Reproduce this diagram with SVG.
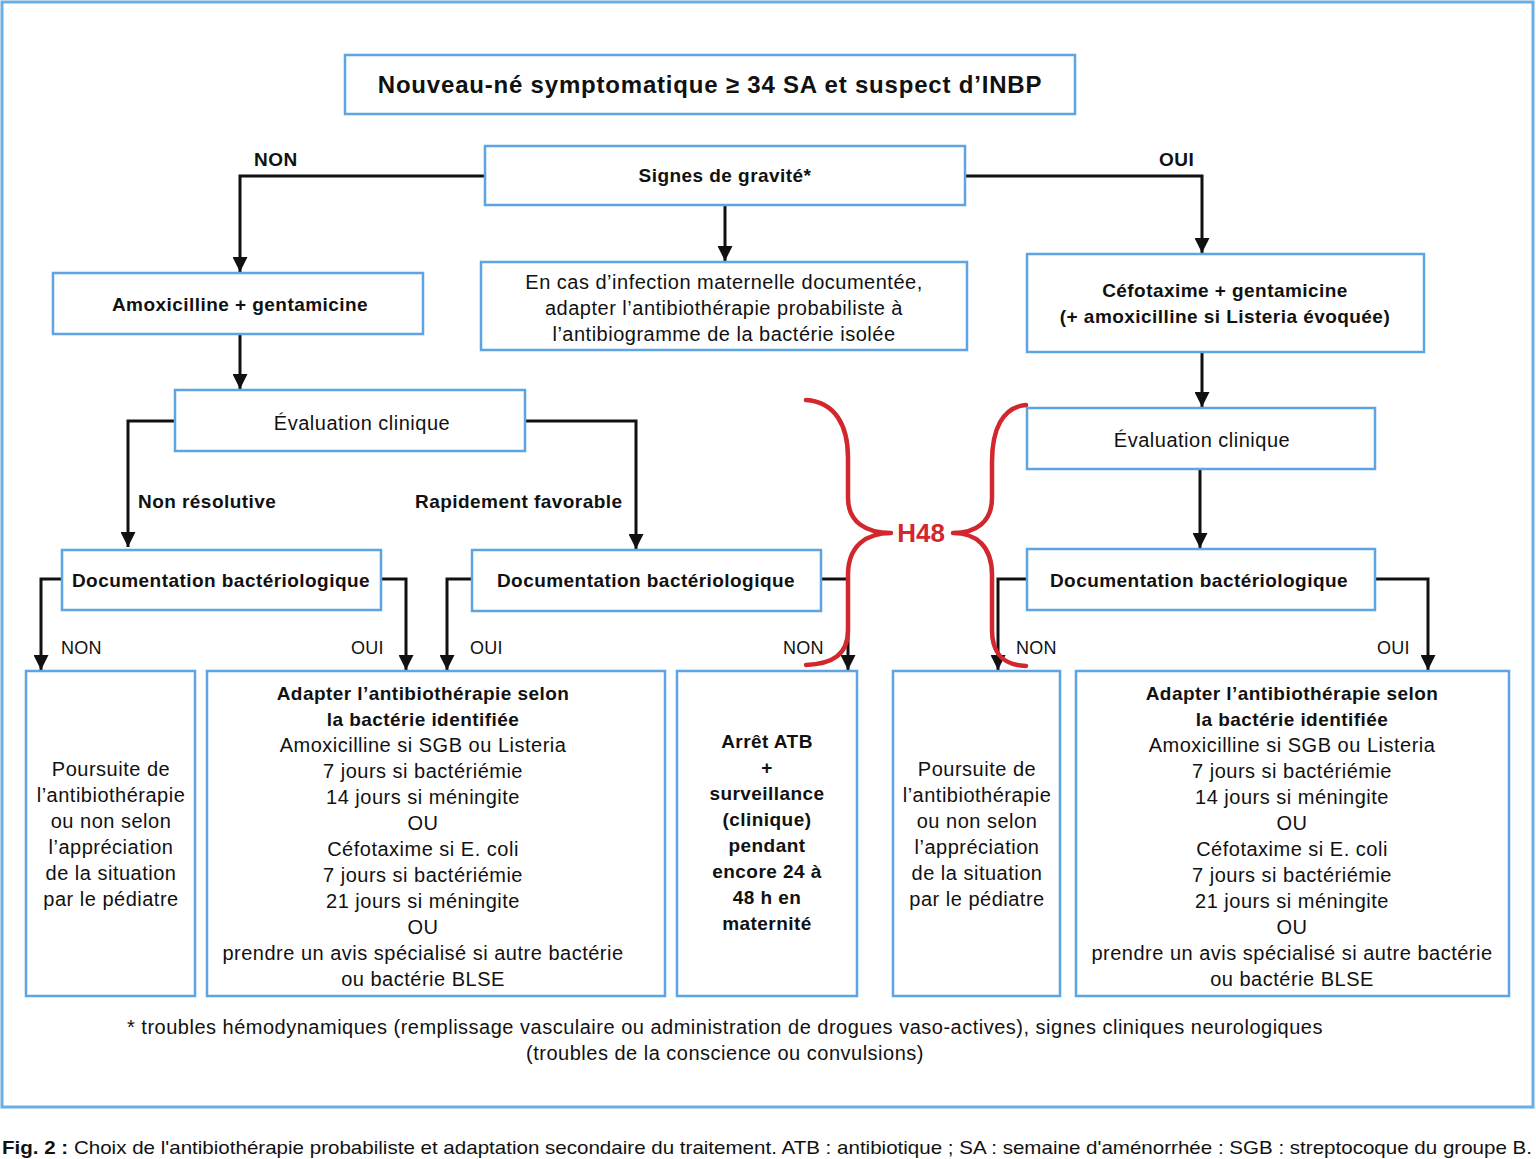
<svg xmlns="http://www.w3.org/2000/svg" width="1536" height="1159" viewBox="0 0 1536 1159">
<defs>
<style>
.box{fill:#fff;stroke:#5ca4e2;stroke-width:2.5}
.frame{fill:#fff;stroke:#6aaee6;stroke-width:3}
.t{font-family:"Liberation Sans",Arial,sans-serif;font-size:20px;letter-spacing:0.5px;fill:#111;text-anchor:middle}
.lbl{font-family:"Liberation Sans",Arial,sans-serif;font-size:18px;letter-spacing:0.2px;fill:#111}
.b{font-weight:bold;font-size:19px;letter-spacing:0.45px}
.c{fill:none;stroke:#111;stroke-width:3}
.brace{fill:none;stroke:#d1272d;stroke-width:4.5;stroke-linecap:round;stroke-linejoin:round}
</style>
<marker id="ah" viewBox="0 0 10 10" refX="10" refY="5" markerWidth="5" markerHeight="5" orient="auto" markerUnits="strokeWidth">
<path d="M0,0 L10,5 L0,10 z" fill="#111"/>
</marker>
</defs>
<rect width="1536" height="1159" fill="#fff"/>
<rect class="frame" x="2" y="2" width="1531" height="1105"/>

<g id="connectors">
<path class="c" d="M485,176 H240 V272" marker-end="url(#ah)"/>
<path class="c" d="M965,176 H1202 V253" marker-end="url(#ah)"/>
<path class="c" d="M725,206 V261" marker-end="url(#ah)"/>
<path class="c" d="M240,335 V389" marker-end="url(#ah)"/>
<path class="c" d="M175,421 H128 V547" marker-end="url(#ah)"/>
<path class="c" d="M525,421 H636 V549" marker-end="url(#ah)"/>
<path class="c" d="M1202,353 V407" marker-end="url(#ah)"/>
<path class="c" d="M1200,470 V548" marker-end="url(#ah)"/>
<path class="c" d="M62,579 H41 V670" marker-end="url(#ah)"/>
<path class="c" d="M381,579 H406 V670" marker-end="url(#ah)"/>
<path class="c" d="M472,579 H447 V670" marker-end="url(#ah)"/>
<path class="c" d="M821,579 H848 V670" marker-end="url(#ah)"/>
<path class="c" d="M1027,579 H998 V670" marker-end="url(#ah)"/>
<path class="c" d="M1375,579 H1428 V670" marker-end="url(#ah)"/>
</g>

<g id="labels">
<text class="lbl b" x="254" y="166">NON</text>
<text class="lbl b" x="1159" y="166">OUI</text>
<text class="lbl b" x="138" y="508">Non résolutive</text>
<text class="lbl b" x="415" y="508">Rapidement favorable</text>
<text class="lbl" x="61" y="654">NON</text>
<text class="lbl" x="351" y="654">OUI</text>
<text class="lbl" x="470" y="654">OUI</text>
<text class="lbl" x="783" y="654">NON</text>
<text class="lbl" x="1016" y="654">NON</text>
<text class="lbl" x="1377" y="654">OUI</text>
</g>

<g id="n-title">
<rect class="box" x="345" y="55" width="730" height="59"/>
<text class="t b" x="710" y="93" style="font-size:24px;letter-spacing:0.8px">Nouveau-né symptomatique ≥ 34 SA et suspect d’INBP</text>
</g>
<g id="n-gravite">
<rect class="box" x="485" y="146" width="480" height="59"/>
<text class="t b" x="725" y="182">Signes de gravité*</text>
</g>
<g id="n-amox">
<rect class="box" x="53" y="273" width="370" height="61"/>
<text class="t b" x="240" y="311">Amoxicilline + gentamicine</text>
</g>
<g id="n-infection">
<rect class="box" x="481" y="262" width="486" height="88"/>
<text class="t" x="724" y="289">En cas d’infection maternelle documentée,</text>
<text class="t" x="724" y="315">adapter l’antibiothérapie probabiliste à</text>
<text class="t" x="724" y="341">l’antibiogramme de la bactérie isolée</text>
</g>
<g id="n-cefo">
<rect class="box" x="1027" y="254" width="397" height="98"/>
<text class="t b" x="1225" y="297">Céfotaxime + gentamicine</text>
<text class="t b" x="1225" y="323">(+ amoxicilline si Listeria évoquée)</text>
</g>
<g id="n-eval-left">
<rect class="box" x="175" y="390" width="350" height="61"/>
<text class="t" x="362" y="430">Évaluation clinique</text>
</g>
<g id="n-eval-right">
<rect class="box" x="1027" y="408" width="348" height="61"/>
<text class="t" x="1202" y="447">Évaluation clinique</text>
</g>
<g id="n-doc1">
<rect class="box" x="62" y="550" width="319" height="60"/>
<text class="t b" x="221" y="587">Documentation bactériologique</text>
</g>
<g id="n-doc2">
<rect class="box" x="472" y="550" width="349" height="61"/>
<text class="t b" x="646" y="587">Documentation bactériologique</text>
</g>
<g id="n-doc3">
<rect class="box" x="1027" y="549" width="348" height="61"/>
<text class="t b" x="1199" y="587">Documentation bactériologique</text>
</g>

<g id="n-poursuite1">
<rect class="box" x="26" y="671" width="169" height="325"/>
<text class="t" x="111" y="776">Poursuite de</text>
<text class="t" x="111" y="802">l’antibiothérapie</text>
<text class="t" x="111" y="828">ou non selon</text>
<text class="t" x="111" y="854">l’appréciation</text>
<text class="t" x="111" y="880">de la situation</text>
<text class="t" x="111" y="906">par le pédiatre</text>
</g>
<g id="n-adapter1">
<rect class="box" x="207" y="671" width="458" height="325"/>
<text class="t b" x="423" y="700">Adapter l’antibiothérapie selon</text>
<text class="t b" x="423" y="726">la bactérie identifiée</text>
<text class="t" x="423" y="752">Amoxicilline si SGB ou Listeria</text>
<text class="t" x="423" y="778">7 jours si bactériémie</text>
<text class="t" x="423" y="804">14 jours si méningite</text>
<text class="t" x="423" y="830">OU</text>
<text class="t" x="423" y="856">Céfotaxime si E. coli</text>
<text class="t" x="423" y="882">7 jours si bactériémie</text>
<text class="t" x="423" y="908">21 jours si méningite</text>
<text class="t" x="423" y="934">OU</text>
<text class="t" x="423" y="960">prendre un avis spécialisé si autre bactérie</text>
<text class="t" x="423" y="986">ou bactérie BLSE</text>
</g>
<g id="n-arret">
<rect class="box" x="677" y="671" width="180" height="325"/>
<text class="t b" x="767" y="748">Arrêt ATB</text>
<text class="t b" x="767" y="774">+</text>
<text class="t b" x="767" y="800">surveillance</text>
<text class="t b" x="767" y="826">(clinique)</text>
<text class="t b" x="767" y="852">pendant</text>
<text class="t b" x="767" y="878">encore 24 à</text>
<text class="t b" x="767" y="904">48 h en</text>
<text class="t b" x="767" y="930">maternité</text>
</g>
<g id="n-poursuite2">
<rect class="box" x="893" y="671" width="167" height="325"/>
<text class="t" x="977" y="776">Poursuite de</text>
<text class="t" x="977" y="802">l’antibiothérapie</text>
<text class="t" x="977" y="828">ou non selon</text>
<text class="t" x="977" y="854">l’appréciation</text>
<text class="t" x="977" y="880">de la situation</text>
<text class="t" x="977" y="906">par le pédiatre</text>
</g>
<g id="n-adapter2">
<rect class="box" x="1076" y="671" width="433" height="325"/>
<text class="t b" x="1292" y="700">Adapter l’antibiothérapie selon</text>
<text class="t b" x="1292" y="726">la bactérie identifiée</text>
<text class="t" x="1292" y="752">Amoxicilline si SGB ou Listeria</text>
<text class="t" x="1292" y="778">7 jours si bactériémie</text>
<text class="t" x="1292" y="804">14 jours si méningite</text>
<text class="t" x="1292" y="830">OU</text>
<text class="t" x="1292" y="856">Céfotaxime si E. coli</text>
<text class="t" x="1292" y="882">7 jours si bactériémie</text>
<text class="t" x="1292" y="908">21 jours si méningite</text>
<text class="t" x="1292" y="934">OU</text>
<text class="t" x="1292" y="960">prendre un avis spécialisé si autre bactérie</text>
<text class="t" x="1292" y="986">ou bactérie BLSE</text>
</g>

<g id="h48">
<path class="brace" d="M806,400 C835,402 848,425 848,458 L848,498 C848,522 866,533 891,533 C866,533 848,546 848,575 L848,630 C848,655 832,664 806,665"/>
<path class="brace" d="M1026,405 C1002,407 992,430 992,462 L992,498 C992,522 976,533 953,533 C976,533 992,546 992,575 L992,630 C992,655 1004,665 1026,666"/>
<text x="921" y="542" style="font-family:'Liberation Sans',Arial,sans-serif;font-size:26px;font-weight:bold;fill:#d1272d;text-anchor:middle">H48</text>
</g>

<g id="footnote">
<text class="t" x="725" y="1034">* troubles hémodynamiques (remplissage vasculaire ou administration de drogues vaso-actives), signes cliniques neurologiques</text>
<text class="t" x="725" y="1060">(troubles de la conscience ou convulsions)</text>
</g>
<text x="2" y="1154" textLength="1530" lengthAdjust="spacingAndGlyphs" style="font-family:'Liberation Sans',Arial,sans-serif;font-size:19px;fill:#111"><tspan font-weight="bold">Fig. 2 :</tspan> Choix de l'antibiothérapie probabiliste et adaptation secondaire du traitement. ATB : antibiotique ; SA : semaine d'aménorrhée : SGB : streptocoque du groupe B.</text>
</svg>
